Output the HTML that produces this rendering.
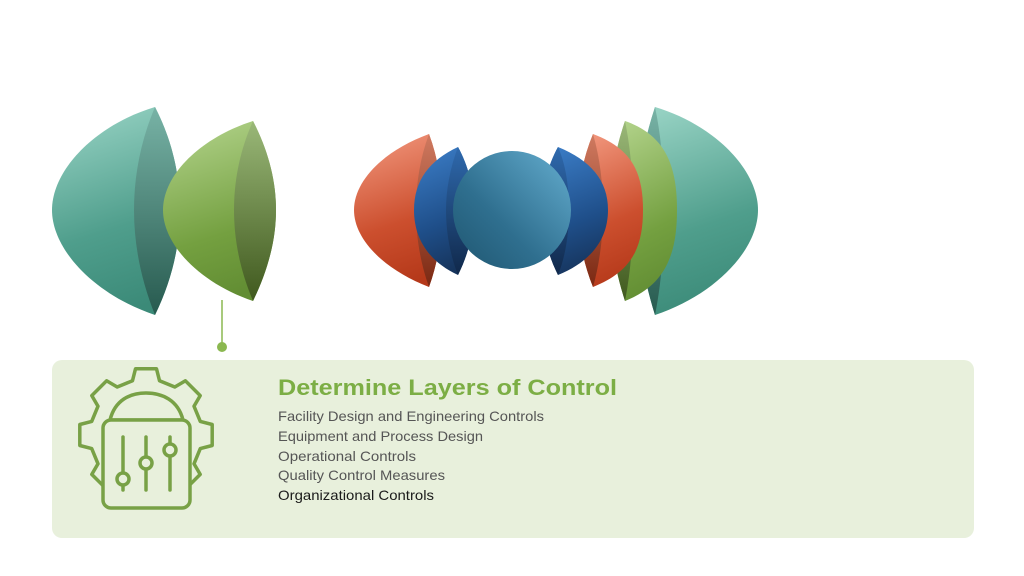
<!DOCTYPE html>
<html><head><meta charset="utf-8"><style>
html,body{margin:0;padding:0;background:#fff;}
svg{display:block;}
text{font-family:"Liberation Sans",sans-serif;}
</style></head><body>
<svg width="1024" height="576" viewBox="0 0 1024 576" xmlns="http://www.w3.org/2000/svg">
<defs>
<linearGradient id="tl" x1="0.3" y1="0" x2="0.5" y2="1"><stop offset="0" stop-color="#95d1c2"/><stop offset="0.6" stop-color="#4f9e8c"/><stop offset="1" stop-color="#3b8a78"/></linearGradient>
<linearGradient id="td" x1="0" y1="0" x2="0" y2="1"><stop offset="0" stop-color="#78b3a6"/><stop offset="1" stop-color="#275a4f"/></linearGradient>
<linearGradient id="gl" x1="0.3" y1="0" x2="0.5" y2="1"><stop offset="0" stop-color="#b0d188"/><stop offset="0.65" stop-color="#74a040"/><stop offset="1" stop-color="#628d33"/></linearGradient>
<linearGradient id="gd" x1="0" y1="0" x2="0" y2="1"><stop offset="0" stop-color="#9ab878"/><stop offset="1" stop-color="#40591e"/></linearGradient>
<linearGradient id="rl" x1="0.3" y1="0" x2="0.5" y2="1"><stop offset="0" stop-color="#f0947a"/><stop offset="0.6" stop-color="#cc4f2e"/><stop offset="1" stop-color="#b5391a"/></linearGradient>
<linearGradient id="rd" x1="0" y1="0" x2="0" y2="1"><stop offset="0" stop-color="#d07a60"/><stop offset="1" stop-color="#7a2812"/></linearGradient>
<linearGradient id="bl" x1="0.3" y1="0" x2="0.5" y2="1"><stop offset="0" stop-color="#3a7bc4"/><stop offset="0.6" stop-color="#1f4f8a"/><stop offset="1" stop-color="#16345c"/></linearGradient>
<linearGradient id="bd" x1="0" y1="0" x2="0" y2="1"><stop offset="0" stop-color="#2f6aae"/><stop offset="1" stop-color="#10284a"/></linearGradient>
<linearGradient id="ci" x1="1" y1="0" x2="0" y2="1"><stop offset="0" stop-color="#65aed0"/><stop offset="0.6" stop-color="#2f6f8f"/><stop offset="1" stop-color="#1f5670"/></linearGradient>
</defs>

<!-- left teal -->
<path d="M155,107 C95,125 52,170 52,210 C52,250 95,295 155,315 C172,280 180,245 180,210 C180,175 172,140 155,107Z" fill="url(#tl)"/>
<path d="M155,107 C141,140 134,175 134,210 C134,245 141,280 155,315 C172,280 180,245 180,210 C180,175 172,140 155,107Z" fill="url(#td)"/>
<!-- left green -->
<path d="M253,121 C200,138 163,175 163,210 C163,245 200,283 253,301 C268,270 276,240 276,210 C276,180 268,150 253,121Z" fill="url(#gl)"/>
<path d="M253,121 C240,150 234,180 234,210 C234,240 240,270 253,301 C268,270 276,240 276,210 C276,180 268,150 253,121Z" fill="url(#gd)"/>
<line x1="222" y1="300" x2="222" y2="345" stroke="#8bb850" stroke-width="1.5"/>
<circle cx="222" cy="347" r="5" fill="#8bb850"/>

<!-- right teal -->
<path d="M655,107 C715,125 758,170 758,210 C758,250 715,295 655,315 C644,280 638,245 638,210 C638,175 644,140 655,107Z" fill="url(#tl)"/>
<path d="M655,107 C644,140 638,175 638,210 C638,245 644,280 655,315 C662,280 664,245 664,210 C664,175 662,140 655,107Z" fill="url(#td)"/>
<!-- right green -->
<path d="M625,121 C665,135 677,165 677,210 C677,255 665,285 625,301 C615,270 610,240 610,210 C610,180 615,150 625,121Z" fill="url(#gl)"/>
<path d="M625,121 C615,150 610,180 610,210 C610,240 615,270 625,301 C631,270 633,240 633,210 C633,180 631,150 625,121Z" fill="url(#gd)"/>
<!-- right red -->
<path d="M593,134 C630,148 643,170 643,210 C643,250 630,272 593,287 C583,262 578,236 578,210 C578,184 583,158 593,134Z" fill="url(#rl)"/>
<path d="M593,134 C583,158 578,184 578,210 C578,236 583,262 593,287 C600,262 603,236 603,210 C603,184 600,158 593,134Z" fill="url(#rd)"/>
<!-- right blue -->
<path d="M558,147 C590,160 608,180 608,210 C608,240 590,262 558,275 C548,255 542,232 542,210 C542,188 548,165 558,147Z" fill="url(#bl)"/>
<path d="M558,147 C548,165 542,188 542,210 C542,232 548,255 558,275 C566,255 569,232 569,210 C569,188 566,165 558,147Z" fill="url(#bd)"/>
<!-- left red -->
<path d="M429,134 C385,150 354,180 354,210 C354,240 385,270 429,287 C438,262 442,236 442,210 C442,184 438,158 429,134Z" fill="url(#rl)"/>
<path d="M429,134 C420,158 416,184 416,210 C416,236 420,262 429,287 C438,262 442,236 442,210 C442,184 438,158 429,134Z" fill="url(#rd)"/>
<!-- left blue -->
<path d="M458,147 C430,160 414,180 414,210 C414,240 430,262 458,275 C468,255 474,232 474,210 C474,188 468,165 458,147Z" fill="url(#bl)"/>
<path d="M458,147 C450,168 446,190 446,210 C446,232 450,255 458,275 C468,255 474,232 474,210 C474,188 468,165 458,147Z" fill="url(#bd)"/>
<!-- center -->
<circle cx="512" cy="210" r="59" fill="url(#ci)"/>

<!-- panel -->
<rect x="52" y="360" width="922" height="178" rx="10" fill="#e8f0dc"/>
<g fill="none" stroke="#78a146" stroke-width="3.5" stroke-linejoin="round" stroke-linecap="round">
<path d="M132.5,380.7 L135.5,368.8 L156.5,368.8 L159.5,380.7 L174.8,387 L185.4,380.8 L200.2,395.6 L194,406.2 L200.3,421.4 L212.2,424.5 L212.2,445.5 L200.3,448.6 L194,463.8 L200.2,474.4 L185.4,489.2 L174.8,483 L159.5,489.3 L156.5,501.2 L135.5,501.2 L132.5,489.3 L117.2,483 L106.6,489.2 L91.8,474.4 L98,463.8 L91.7,448.6 L79.8,445.5 L79.8,424.5 L91.7,421.4 L98,406.2 L91.8,395.6 L106.6,380.8 L117.2,387 Z"/>
<path d="M110,420 C115,400 130,393 146,393 C162,393 178,400 183,420 Z" fill="#e8f0dc"/>
<rect x="103" y="420" width="87" height="88" rx="8" fill="#e8f0dc"/>
<line x1="123" y1="437" x2="123" y2="490"/>
<line x1="146" y1="437" x2="146" y2="490"/>
<line x1="170" y1="437" x2="170" y2="490"/>
<circle cx="123" cy="479" r="6" fill="#e8f0dc"/>
<circle cx="146" cy="463" r="6" fill="#e8f0dc"/>
<circle cx="170" cy="450" r="6" fill="#e8f0dc"/>
</g>
<text x="278" y="395" font-size="22" font-weight="bold" fill="#7cae45" textLength="339" lengthAdjust="spacingAndGlyphs">Determine Layers of Control</text>
<g font-size="14" fill="#555">
<text x="278" y="421" textLength="266" lengthAdjust="spacingAndGlyphs">Facility Design and Engineering Controls</text>
<text x="278" y="441" textLength="205" lengthAdjust="spacingAndGlyphs">Equipment and Process Design</text>
<text x="278" y="461" textLength="138" lengthAdjust="spacingAndGlyphs">Operational Controls</text>
<text x="278" y="480" textLength="167" lengthAdjust="spacingAndGlyphs">Quality Control Measures</text>
<text x="278" y="500" textLength="156" lengthAdjust="spacingAndGlyphs" fill="#1a1a1a">Organizational Controls</text>
</g>
</svg>
</body></html>
